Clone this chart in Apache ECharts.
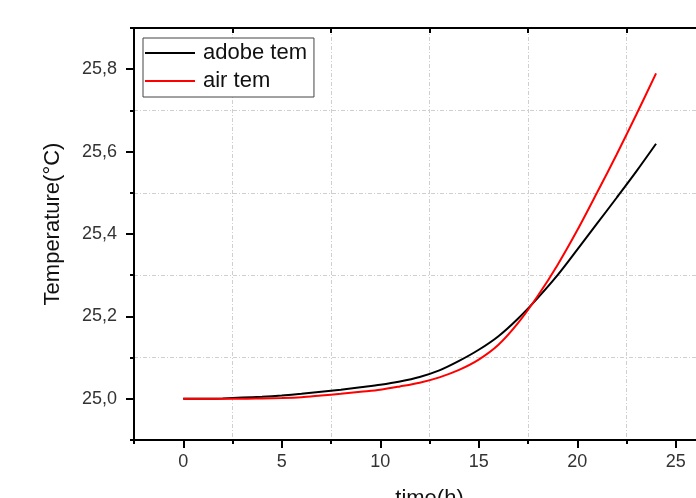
<!DOCTYPE html>
<html>
<head>
<meta charset="utf-8">
<script src="https://cdn.jsdelivr.net/npm/echarts@6/dist/echarts.min.js"></script>
<style>html,body{margin:0;padding:0;background:#fff;overflow:hidden}#c{width:696px;height:498px}</style>
</head>
<body>
<div id="c"></div>
<script>
const hours = [0,1,2,3,4,5,6,7,8,9,10,11,12,13,14,15,16,17,18,19,20,21,22,23,24];
const adobeTem = [25.000,25.000,25.001,25.003,25.005,25.008,25.012,25.017,25.022,25.028,25.034,25.042,25.053,25.069,25.092,25.119,25.152,25.195,25.245,25.300,25.362,25.425,25.488,25.552,25.619];
const airTem = [25.000,25.000,25.000,25.000,25.001,25.002,25.004,25.008,25.012,25.017,25.022,25.030,25.039,25.052,25.070,25.095,25.131,25.184,25.250,25.325,25.409,25.500,25.593,25.690,25.790];
const seriesNames = ['adobe tem', 'air tem'];
const xTickPositions = ['-2.5','0','2.5','5','7.5','10','12.5','15','17.5','20','22.5','25','27.5'];
const yTickPositions = ['24.9','25.0','25.1','25.2','25.3','25.4','25.5','25.6','25.7','25.8','25.9'];

const FONT = 'Liberation Sans, Arial, sans-serif';
const gridLine = {show: true, lineStyle: {color: '#cfcfcf', width: 1, type: [4, 2, 1, 2]}};

const chart = echarts.init(document.getElementById('c'), null, {renderer: 'canvas'});
chart.setOption({
  animation: false,
  backgroundColor: '#fff',
  grid: {left: 134, top: 28, right: -29, bottom: 58, containLabel: false, outerBoundsMode: 'none'},
  legend: {
    orient: 'vertical', left: 143, top: 38,
    data: seriesNames,
    icon: 'rect', itemWidth: 50, itemHeight: 2, itemGap: 6,
    padding: [4, 7, 5, 2],
    borderColor: '#444', borderWidth: 1, backgroundColor: '#fff',
    textStyle: {fontFamily: FONT, fontSize: 22, color: '#111', lineHeight: 22, padding: [0, 0, 0, 3]}
  },
  xAxis: [
    {
      type: 'value', min: -2.5, max: 27.5, interval: 2.5, position: 'bottom',
      name: 'time(h)', nameLocation: 'middle', nameGap: 48,
      nameTextStyle: {fontFamily: FONT, fontSize: 22, color: '#111'},
      axisLine: {show: true, onZero: false, lineStyle: {color: '#000', width: 2}},
      axisTick: {show: true, length: 4, lineStyle: {color: '#000', width: 2}},
      axisLabel: {
        margin: 13, fontFamily: FONT, fontSize: 18, color: '#333',
        formatter: v => (Math.abs(v % 5) < 1e-6 ? String(Math.round(v)) : '')
      },
      splitLine: {show: false}
    },
    {
      type: 'category', position: 'bottom', data: xTickPositions, boundaryGap: false,
      axisLine: {show: false, onZero: false},
      axisTick: {show: true, length: 8, interval: i => i % 2 === 1, lineStyle: {color: '#000', width: 2}},
      axisLabel: {show: false}, splitLine: {show: false}
    },
    {
      type: 'category', position: 'top', data: xTickPositions, boundaryGap: false,
      axisLine: {show: true, onZero: false, lineStyle: {color: '#000', width: 2}},
      axisTick: {show: true, inside: true, length: 5, interval: i => i % 2 === 0, lineStyle: {color: '#000', width: 2}},
      axisLabel: {show: false},
      splitLine: Object.assign({interval: i => i % 2 === 0}, gridLine)
    }
  ],
  yAxis: [
    {
      type: 'value', min: 24.9, max: 25.9, interval: 0.1, position: 'left',
      name: 'Temperature(°C)', nameLocation: 'middle', nameGap: 70, nameRotate: 90,
      nameTextStyle: {fontFamily: FONT, fontSize: 22, color: '#111', padding: [0, 0, 0, 20]},
      axisLine: {show: true, onZero: false, lineStyle: {color: '#000', width: 2}},
      axisTick: {show: true, length: 4, lineStyle: {color: '#000', width: 2}},
      axisLabel: {
        margin: 17, fontFamily: FONT, fontSize: 18, color: '#333',
        formatter: v => { const k = Math.round(v * 10); return k % 2 === 0 ? (k / 10).toFixed(1).replace('.', ',') : ''; }
      },
      splitLine: {show: false}
    },
    {
      type: 'category', position: 'left', data: yTickPositions, boundaryGap: false,
      axisLine: {show: false, onZero: false},
      axisTick: {show: true, length: 8, interval: i => i % 2 === 1, lineStyle: {color: '#000', width: 2}},
      axisLabel: {show: false},
      splitLine: Object.assign({interval: i => i % 2 === 0}, gridLine)
    }
  ],
  series: [
    {
      name: seriesNames[0], type: 'line', xAxisIndex: 0, yAxisIndex: 0,
      data: hours.map((h, i) => [h, adobeTem[i]]),
      symbol: 'none', smooth: 0.3, itemStyle: {color: '#000'},
      lineStyle: {color: '#000', width: 2}, z: 3
    },
    {
      name: seriesNames[1], type: 'line', xAxisIndex: 0, yAxisIndex: 0,
      data: hours.map((h, i) => [h, airTem[i]]),
      symbol: 'none', smooth: 0.3, itemStyle: {color: '#ff0000'},
      lineStyle: {color: '#ff0000', width: 2}, z: 4
    }
  ]
});
</script>
</body>
</html>
